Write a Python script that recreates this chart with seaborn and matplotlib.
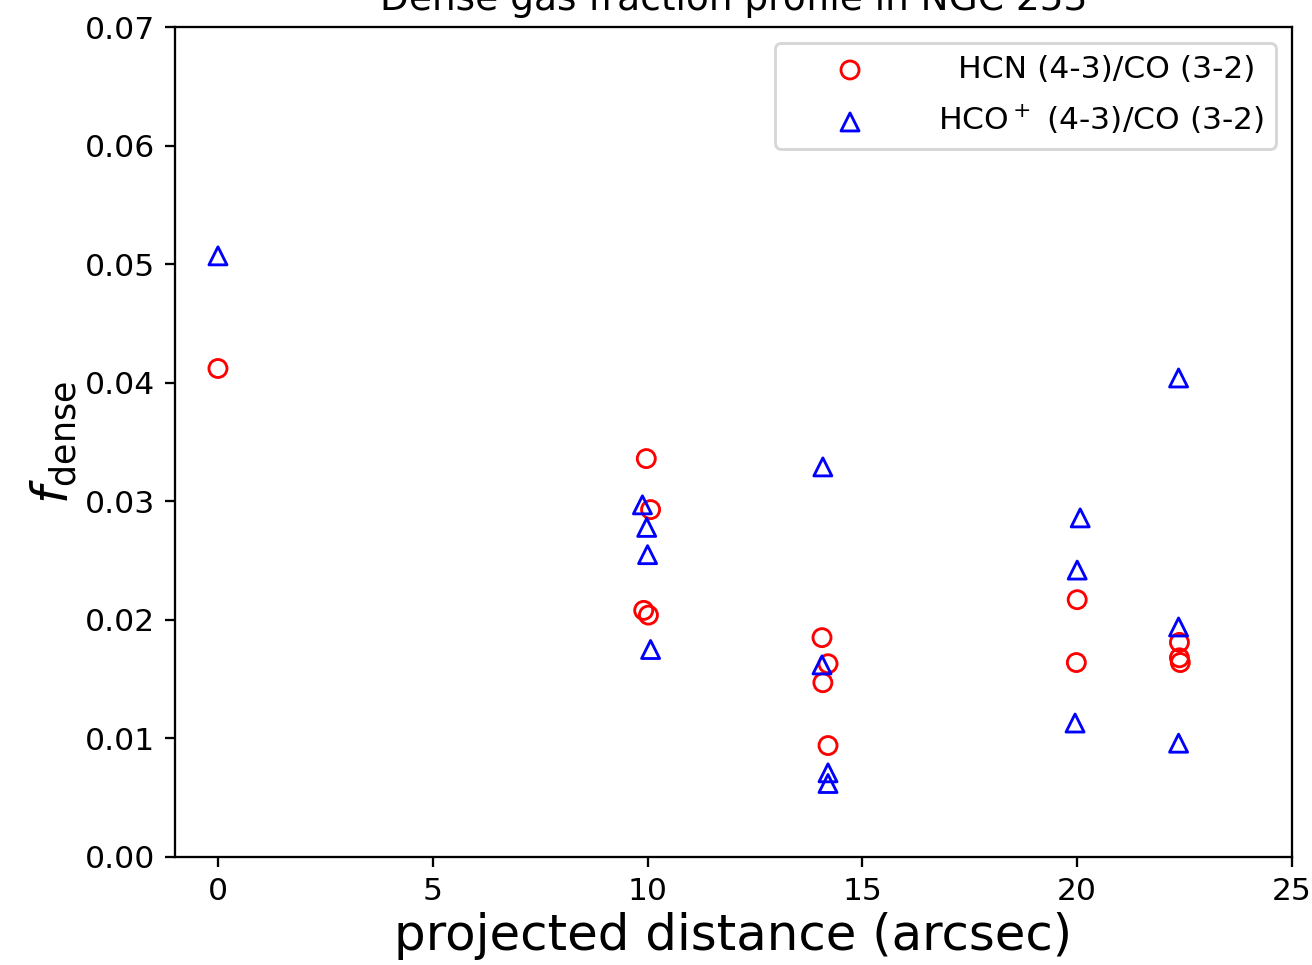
import matplotlib
matplotlib.use("Agg")
import matplotlib.pyplot as plt
import seaborn as sns

# HCN (4-3)/CO (3-2)
hcn_dist = [0.0, 9.97, 10.07, 9.91, 10.02, 14.06, 14.20, 14.08, 14.20, 20.0, 19.98, 22.38, 22.38, 22.40]
hcn_frac = [0.0412, 0.0336, 0.0293, 0.0208, 0.0204, 0.0185, 0.0163, 0.0147, 0.0094, 0.0217, 0.0164, 0.0181, 0.0168, 0.0164]

# HCO+ (4-3)/CO (3-2)
hco_dist = [0.0, 9.88, 9.98, 10.0, 10.07, 14.08, 14.06, 14.20, 14.20, 20.07, 20.0, 19.95, 22.36, 22.36, 22.36]
hco_frac = [0.0507, 0.0297, 0.0278, 0.0255, 0.0175, 0.0329, 0.0162, 0.0071, 0.0062, 0.0286, 0.0242, 0.0113, 0.0404, 0.0194, 0.0096]

xticks = [0, 5, 10, 15, 20, 25]
yticks = [0.00, 0.01, 0.02, 0.03, 0.04, 0.05, 0.06, 0.07]

DPI = 205
fig = plt.figure(figsize=(1312 / DPI, 965 / DPI), dpi=DPI)
ax = fig.add_axes([175 / 1312, 1 - 857 / 965, (1292 - 175) / 1312, (857 - 27) / 965])

sns.scatterplot(x=hcn_dist, y=hcn_frac, ax=ax, marker="o", s=40,
                facecolors="none", edgecolor="red", linewidth=1.0,
                label="  HCN (4-3)/CO (3-2)")
sns.scatterplot(x=hco_dist, y=hco_frac, ax=ax, marker="^", s=40,
                facecolors="none", edgecolor="blue", linewidth=1.0,
                label="HCO$^+$ (4-3)/CO (3-2)")

ax.set_xlim(-1, 25)
ax.set_ylim(0, 0.07)
ax.set_xticks(xticks)
ax.set_yticks(yticks)
ax.set_yticklabels([f"{v:.2f}" for v in yticks])
ax.tick_params(labelsize=11)
ax.set_xlabel("projected distance (arcsec)", fontsize=17.5, labelpad=2)
ax.set_ylabel(r"$f_{\rm dense}$", fontsize=17.5, labelpad=2)
ax.set_title("Dense gas fraction profile in NGC 253", fontsize=13.2)

ax.legend(loc="upper right", fontsize=11, handlelength=4.0, handletextpad=0.8,
          labelspacing=0.6)

fig.savefig("out.png", dpi=DPI)
